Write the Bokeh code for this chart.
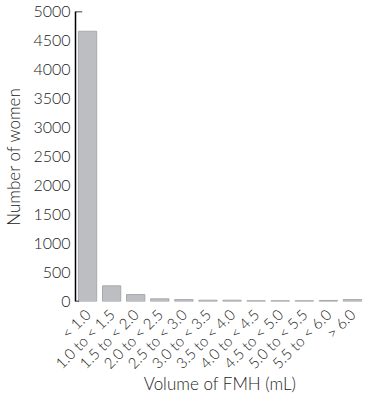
from math import pi
from bokeh.plotting import figure
from bokeh.models import FactorRange, Range1d, FixedTicker
from bokeh.embed import file_html
from bokeh.resources import INLINE

categories = ["< 1.0", "1.0 to < 1.5", "1.5 to < 2.0", "2.0 to < 2.5", "2.5 to < 3.0",
              "3.0 to < 3.5", "3.5 to < 4.0", "4.0 to < 4.5", "4.5 to < 5.0",
              "5.0 to < 5.5", "5.5 to < 6.0", "> 6.0"]
counts = [4660, 270, 120, 46, 33, 22, 22, 14, 14, 14, 18, 33]
y_ticks = [0, 500, 1000, 1500, 2000, 2500, 3000, 3500, 4000, 4500, 5000]
x_title = "Volume of FMH (mL)"
y_title = "Number of women"

FONT = "Lato Light"
TXT = "#222222"

p = figure(x_range=FactorRange(*categories), y_range=Range1d(0, y_ticks[-1]),
           width=364, height=397, output_backend="svg", toolbar_location=None,
           min_border_left=60, min_border_right=0, min_border_top=11, min_border_bottom=60,
           x_axis_label=x_title, y_axis_label=y_title)
p.outline_line_color = None
p.xgrid.grid_line_color = None
p.ygrid.grid_line_color = None

p.vbar(x=categories, top=counts, width=0.76, fill_color="#bdbec2", line_color="#a8a9ad", line_width=1)

# small end ticks on the y axis
p.segment(x0=[(categories[0], -0.5)], x1=[(categories[0], -0.22)], y0=[y_ticks[-1]], y1=[y_ticks[-1]],
          line_color="black", line_width=1.5)
p.segment(x0=[(categories[0], -0.5)], x1=[(categories[0], -0.35)], y0=[y_ticks[0]], y1=[y_ticks[0]],
          line_color="black", line_width=1.5)

ya = p.yaxis[0]
ya.ticker = FixedTicker(ticks=y_ticks)
ya.major_tick_in = 0
ya.major_tick_out = 0
ya.minor_tick_line_color = None
ya.axis_line_color = "black"
ya.axis_line_width = 1.5
ya.major_label_standoff = 5
ya.major_label_text_font = FONT
ya.major_label_text_font_size = "16px"
ya.major_label_text_color = TXT
ya.axis_label_text_font = FONT
ya.axis_label_text_font_size = "17px"
ya.axis_label_text_font_style = "normal"
ya.axis_label_text_color = TXT
ya.axis_label_standoff = 6

xa = p.xaxis[0]
xa.axis_line_color = None
xa.major_tick_line_color = None
xa.minor_tick_line_color = None
xa.major_label_orientation = pi / 4
xa.major_label_standoff = 4
xa.major_label_text_font = FONT
xa.major_label_text_font_size = "15px"
xa.major_label_text_color = TXT
xa.axis_label_text_font = FONT
xa.axis_label_text_font_size = "17px"
xa.axis_label_text_font_style = "normal"
xa.axis_label_text_color = TXT
xa.axis_label_standoff = -8

open("out.html", "w").write(file_html(p, INLINE))
